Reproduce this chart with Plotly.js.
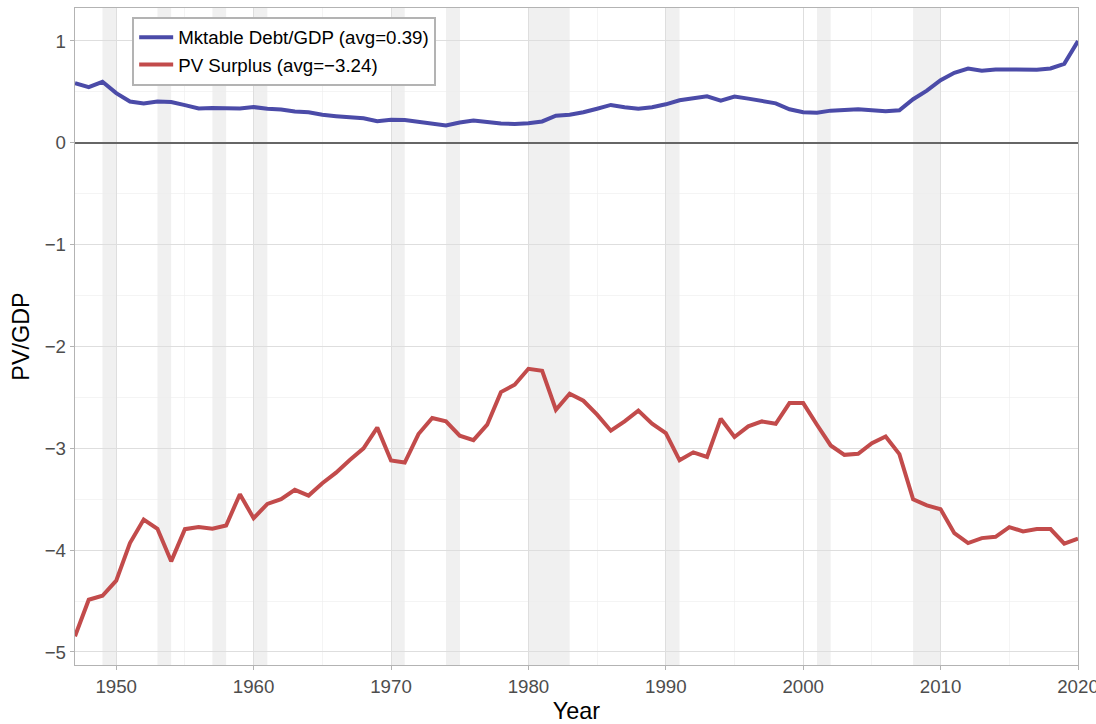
<!DOCTYPE html>
<html>
<head>
<meta charset="utf-8">
<script src="https://cdn.plot.ly/plotly-3.0.1.min.js"></script>
<style>
html,body{margin:0;padding:0;background:#fff;overflow:hidden;width:1096px;height:724px;}
#chart{width:1116px;height:724px;}
</style>
</head>
<body>
<div id="chart"></div>
<script>
const years = [];
for (let y = 1947; y <= 2020; y++) years.push(y);

const debtGDP = [
  0.586, 0.547, 0.599, 0.488, 0.406, 0.386, 0.406, 0.400, 0.370, 0.337,
  0.341, 0.341, 0.337, 0.351, 0.334, 0.327, 0.307, 0.300, 0.275, 0.262,
  0.255, 0.242, 0.213, 0.226, 0.223, 0.206, 0.184, 0.170, 0.200, 0.219,
  0.205, 0.190, 0.186, 0.192, 0.210, 0.266, 0.276, 0.300, 0.335, 0.372,
  0.350, 0.335, 0.349, 0.378, 0.418, 0.438, 0.457, 0.415, 0.455, 0.434,
  0.414, 0.388, 0.330, 0.300, 0.296, 0.316, 0.322, 0.329, 0.319, 0.309,
  0.319, 0.428, 0.513, 0.615, 0.688, 0.730, 0.707, 0.720, 0.720, 0.720,
  0.717, 0.730, 0.775, 1.000
];

const pvSurplus = [
  -4.846, -4.487, -4.448, -4.300, -3.930, -3.700, -3.790, -4.110, -3.794, -3.774,
  -3.790, -3.758, -3.451, -3.686, -3.546, -3.500, -3.408, -3.464, -3.343, -3.239,
  -3.114, -3.000, -2.797, -3.120, -3.140, -2.860, -2.703, -2.735, -2.876, -2.920,
  -2.768, -2.448, -2.376, -2.219, -2.239, -2.621, -2.464, -2.533, -2.670, -2.827,
  -2.735, -2.630, -2.758, -2.850, -3.118, -3.040, -3.085, -2.709, -2.889, -2.784,
  -2.736, -2.759, -2.556, -2.556, -2.769, -2.972, -3.064, -3.054, -2.950, -2.884,
  -3.057, -3.500, -3.560, -3.598, -3.833, -3.931, -3.882, -3.869, -3.774, -3.816,
  -3.793, -3.793, -3.937, -3.888
];

const seriesNames = ["Mktable Debt/GDP (avg=0.39)", "PV Surplus (avg=\u22123.24)"];

const recessionStart = [1949, 1953, 1957, 1960, 1970, 1974, 1980, 1990, 2001, 2008];
const recessionEnd   = [1950, 1954, 1958, 1961, 1971, 1975, 1983, 1991, 2002, 2010];

const shapes = recessionStart.map((s, i) => ({
  type: 'rect', xref: 'x', yref: 'paper',
  x0: s, x1: recessionEnd[i], y0: 0, y1: 1,
  fillcolor: '#f0f0f0', line: {width: 0}, layer: 'below'
}));

const traces = [
  {x: years, y: debtGDP, name: seriesNames[0], type: 'scatter', mode: 'lines',
   line: {color: '#4b4ba8', width: 4}},
  {x: years, y: pvSurplus, name: seriesNames[1], type: 'scatter', mode: 'lines',
   line: {color: '#c24b4b', width: 4}}
];

const layout = {
  width: 1116, height: 724,
  margin: {l: 75, r: 38, t: 8, b: 59},
  paper_bgcolor: '#fff', plot_bgcolor: '#fff',
  font: {family: 'Liberation Sans, Arial, sans-serif', size: 18.7, color: '#4d4d4d'},
  showlegend: true,
  legend: {
    x: 0.057, y: 0.987, xanchor: 'left', yanchor: 'top',
    bgcolor: '#fff', bordercolor: '#b3b3b3', borderwidth: 2,
    font: {size: 18.7, color: '#000'},
    tracegroupgap: 0, itemwidth: 34
  },
  xaxis: {
    range: [1947, 2020], tickmode: 'linear', tick0: 1950, dtick: 10,
    showgrid: true, gridcolor: '#dedede', gridwidth: 1,
    minor: {dtick: 5, tick0: 1955, showgrid: true, gridcolor: '#ececec', gridwidth: 0.6},
    zeroline: false,
    showline: true, mirror: true, linecolor: '#b3b3b3', linewidth: 1.3,
    ticks: 'outside', ticklen: 4, tickcolor: '#b3b3b3',
    tickfont: {size: 18.7, color: '#4d4d4d'},
    title: {text: 'Year', font: {size: 23.4, color: '#000'}, standoff: 8}
  },
  yaxis: {
    range: [-5.128, 1.324], tickmode: 'linear', tick0: 0, dtick: 1,
    showgrid: true, gridcolor: '#dedede', gridwidth: 1,
    minor: {dtick: 0.5, tick0: 0.5, showgrid: true, gridcolor: '#ececec', gridwidth: 0.6},
    zeroline: true, zerolinecolor: '#666666', zerolinewidth: 1.5,
    showline: true, mirror: true, linecolor: '#b3b3b3', linewidth: 1.3,
    ticks: 'outside', ticklen: 4, tickcolor: '#b3b3b3',
    tickfont: {size: 18.7, color: '#4d4d4d'},
    title: {text: 'PV/GDP', font: {size: 23.4, color: '#000'}, standoff: 8}
  },
  shapes: shapes
};

Plotly.newPlot('chart', traces, layout, {displayModeBar: false, staticPlot: true});
</script>
</body>
</html>
